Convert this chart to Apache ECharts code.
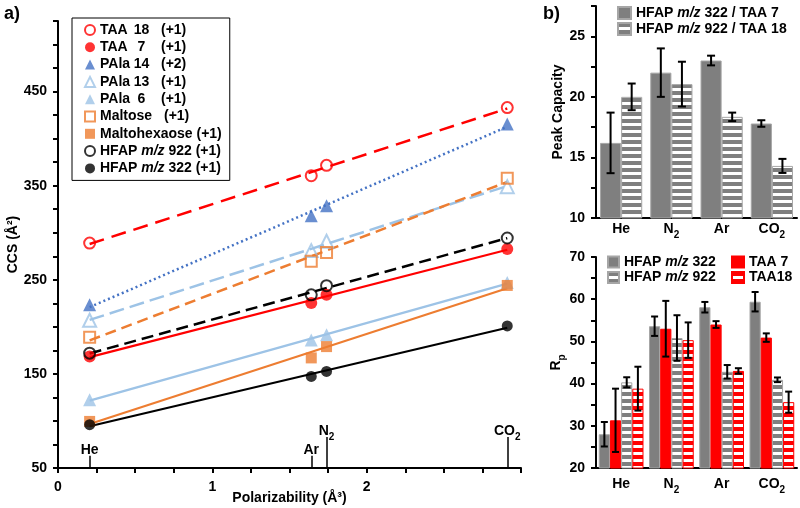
<!DOCTYPE html>
<html><head><meta charset="utf-8">
<script src="https://cdn.jsdelivr.net/npm/echarts@6/dist/echarts.min.js"></script>
<style>html,body{margin:0;padding:0;background:#fff}#c{width:800px;height:508px}</style>
</head><body><div id="c"></div>
<script>
// ---------- Panel a data (CCS vs polarizability) ----------
const gasNames = ['He', 'Ar', 'N2', 'CO2'];
const polarizability = [0.205, 1.641, 1.74, 2.911];
const ccsTAA18 = [289, 360.6, 371.6, 433];
const ccsTAA7 = [168.6, 225.3, 234, 282.7];
const ccsPAla14 = [223.5, 318, 328.7, 415.6];
const ccsPAla13 = [207, 281, 291, 349];
const ccsPAla6 = [122.6, 186, 191.6, 247];
const ccsMaltose = [189, 269.6, 279, 358];
const ccsMaltohexaose = [99.5, 167, 179, 244];
const ccsHFAP922 = [172, 234, 243.7, 294.4];
const ccsHFAP322 = [96, 147.3, 152.6, 201];
const yTicksA = [50, 150, 250, 350, 450];
const xTicksA = [0, 1, 2];

// ---------- Panel b data ----------
const barGases = ['He', 'N2', 'Ar', 'CO2'];
const pc322TAA7 = [16.2, 22.0, 23.0, 17.8];
const pc322TAA7Err = [2.5, 2.0, 0.4, 0.27];
const pc922TAA18 = [20.0, 21.05, 18.35, 14.3];
const pc922TAA18Err = [1.1, 1.85, 0.35, 0.58];

const rpHFAP322 = [28.0, 53.6, 58.1, 59.4];
const rpHFAP322Err = [2.9, 2.3, 1.25, 2.3];
const rpTAA7 = [31.3, 53.0, 54.0, 50.9];
const rpTAA7Err = [7.5, 6.6, 0.8, 1.0];
const rpHFAP922 = [40.3, 50.8, 42.8, 40.9];
const rpHFAP922Err = [1.2, 5.4, 1.6, 0.55];
const rpTAA18 = [38.8, 50.3, 43.0, 35.6];
const rpTAA18Err = [5.2, 4.2, 0.65, 2.5];

// ---------- helpers ----------
const FONT = 'Liberation Sans, Arial, sans-serif';
const RED = '#FF0000', DBLUE = '#4472C4', LBLUE = '#9DC3E6', ORANGE = '#ED7D31', BLACK = '#000000', GRAY = '#7F7F7F';

function stripes(fg, bg) {
  const c = document.createElement('canvas');
  c.width = 4; c.height = 7;
  const g = c.getContext('2d');
  g.fillStyle = bg; g.fillRect(0, 0, 4, 7);
  g.fillStyle = fg; g.fillRect(0, 0, 4, 4);
  return { image: c, repeat: 'repeat' };
}
function fit(xs, ys) {
  const n = xs.length;
  const mx = xs.reduce((a, b) => a + b, 0) / n, my = ys.reduce((a, b) => a + b, 0) / n;
  let sxy = 0, sxx = 0;
  for (let i = 0; i < n; i++) { sxy += (xs[i] - mx) * (ys[i] - my); sxx += (xs[i] - mx) ** 2; }
  const k = sxy / sxx, b = my - k * mx;
  const x0 = Math.min(...xs), x1 = Math.max(...xs);
  return [[x0, k * x0 + b], [x1, k * x1 + b]];
}
const pts = ys => polarizability.map((x, i) => [x, ys[i]]);
const subRich = {
  n: { fontFamily: FONT, fontSize: 14, fontWeight: 'bold', color: '#000', lineHeight: 16, verticalAlign: 'top' },
  s: { fontFamily: FONT, fontSize: 10, fontWeight: 'bold', color: '#000', lineHeight: 10, verticalAlign: 'top', padding: [8, 0, 0, 0] }
};
function gasLabel(g) {
  const m = g.match(/^([A-Za-z]+)(\d*)$/);
  return m[2] ? '{n|' + m[1] + '}{s|' + m[2] + '}' : '{n|' + m[1] + '}';
}

const compounds = [
  { name: 'TAA 18 (+1)', ys: ccsTAA18, color: RED, symbol: 'circle', hollow: true, size: 11, dash: [15, 8] },
  { name: 'TAA 7 (+1)', ys: ccsTAA7, color: RED, symbol: 'circle', hollow: false, size: 12, dash: 'solid' },
  { name: 'PAla 14 (+2)', ys: ccsPAla14, color: DBLUE, symbol: 'triangle', hollow: false, size: 13, dash: [2, 3] },
  { name: 'PAla 13 (+1)', ys: ccsPAla13, color: LBLUE, symbol: 'triangle', hollow: true, size: 13, dash: [15, 6] },
  { name: 'PAla 6 (+1)', ys: ccsPAla6, color: LBLUE, symbol: 'triangle', hollow: false, size: 13, dash: 'solid' },
  { name: 'Maltose (+1)', ys: ccsMaltose, color: ORANGE, symbol: 'rect', hollow: true, size: 11, dash: [11, 6] },
  { name: 'Maltohexaose (+1)', ys: ccsMaltohexaose, color: ORANGE, symbol: 'rect', hollow: false, size: 11, dash: 'solid' },
  { name: 'HFAP m/z 922 (+1)', ys: ccsHFAP922, color: BLACK, symbol: 'circle', hollow: true, size: 11, dash: [12, 6] },
  { name: 'HFAP m/z 322 (+1)', ys: ccsHFAP322, color: BLACK, symbol: 'circle', hollow: false, size: 11, dash: 'solid' }
];
const legendFmtA = {
  'TAA 18 (+1)': '{n|TAA}{d|18}{c|(+1)}',
  'TAA 7 (+1)': '{n|TAA}{d|7}{c|(+1)}',
  'PAla 14 (+2)': '{n|PAla}{d|14}{c|(+2)}',
  'PAla 13 (+1)': '{n|PAla}{d|13}{c|(+1)}',
  'PAla 6 (+1)': '{n|PAla}{d|6}{c|(+1)}',
  'Maltose (+1)': '{w|Maltose}{c|(+1)}',
  'Maltohexaose (+1)': '{t|Maltohexaose (+1)}',
  'HFAP m/z 922 (+1)': '{t|HFAP }{i|m/z}{t| 922 (+1)}',
  'HFAP m/z 322 (+1)': '{t|HFAP }{i|m/z}{t| 322 (+1)}'
};
const base = { fontFamily: FONT, fontSize: 14, fontWeight: 'bold', color: '#000', lineHeight: 15 };
const richA = {
  n: Object.assign({}, base, { width: 32 }),
  d: Object.assign({}, base, { width: 19, align: 'right' }),
  c: Object.assign({}, base, { padding: [0, 0, 0, 10] }),
  w: Object.assign({}, base, { width: 54 }),
  t: Object.assign({}, base),
  i: Object.assign({}, base, { fontStyle: 'italic' })
};
const richB = {
  t: Object.assign({}, base, { lineHeight: 15 }),
  i: Object.assign({}, base, { lineHeight: 15, fontStyle: 'italic' })
};
const mzFmt = name => name.split('m/z').map(s => s ? '{t|' + s + '}' : '').join('{i|m/z}');

function errRender(idx, n, gap, cap) {
  return function (params, api) {
    const c = api.value(0), v = api.value(1), e = api.value(2);
    const band = api.size([1, 0])[0];
    const bw = band * (1 - gap) / n;
    const x = api.coord([c, v])[0] + (idx - n / 2 + 0.5) * bw;
    const y1 = api.coord([c, v + e])[1], y2 = api.coord([c, v - e])[1];
    const st = { stroke: '#000', lineWidth: 2 };
    return { type: 'group', children: [
      { type: 'line', shape: { x1: x, y1: y1, x2: x, y2: y2 }, style: st },
      { type: 'line', shape: { x1: x - cap, y1: y1, x2: x + cap, y2: y1 }, style: st },
      { type: 'line', shape: { x1: x - cap, y1: y2, x2: x + cap, y2: y2 }, style: st }
    ] };
  };
}
const errData = (vals, errs) => vals.map((v, i) => [i, v, errs[i]]);

const series = [];
compounds.forEach(cp => {
  series.push({
    type: 'line', xAxisIndex: 0, yAxisIndex: 0, data: fit(polarizability, cp.ys), showSymbol: false, silent: true, z: 2,
    lineStyle: { color: cp.color, width: cp.dash === 'solid' ? 2.2 : 2.5, type: cp.dash }
  });
});
compounds.forEach(cp => {
  series.push({
    type: 'scatter', name: cp.name, xAxisIndex: 0, yAxisIndex: 0, data: pts(cp.ys), symbol: cp.symbol, symbolSize: cp.size, z: 3,
    itemStyle: cp.hollow ? { color: 'rgba(255,255,255,0)', borderColor: cp.color, borderWidth: 2 } : { color: cp.color, borderWidth: 0 }
  });
});
// gas marker ticks on panel a
series.push({
  type: 'line', xAxisIndex: 0, yAxisIndex: 0, data: [], silent: true,
  markLine: {
    silent: true, symbol: ['none', 'none'], animation: false,
    lineStyle: { color: '#000', width: 1.5, type: 'solid' },
    label: { show: true, position: 'end', distance: -3, formatter: p => gasLabel(p.name), rich: subRich },
    data: gasNames.map((g, i) => [
      { name: g, coord: [polarizability[i], 50] },
      { coord: [polarizability[i], (g === 'He' || g === 'Ar') ? 63 : 83] }
    ])
  }
});

const stripeGray = stripes(GRAY, '#FFFFFF');
const stripeRed = stripes(RED, '#FFFFFF');
const GAP_TOP = 0.16, GAP_BOT = 0.11;
// panel b top
series.push({ type: 'bar', name: 'HFAP m/z 322 / TAA 7', xAxisIndex: 1, yAxisIndex: 1, data: pc322TAA7, barGap: '0%', barCategoryGap: '16%',
  itemStyle: { color: GRAY, borderColor: '#A6A6A6', borderWidth: 1 } });
series.push({ type: 'bar', name: 'HFAP m/z 922 / TAA 18', xAxisIndex: 1, yAxisIndex: 1, data: pc922TAA18, barGap: '0%', barCategoryGap: '16%',
  itemStyle: { color: stripeGray, borderColor: '#A6A6A6', borderWidth: 1 } });
series.push({ type: 'custom', xAxisIndex: 1, yAxisIndex: 1, data: errData(pc322TAA7, pc322TAA7Err), renderItem: errRender(0, 2, GAP_TOP, 4), z: 5, silent: true });
series.push({ type: 'custom', xAxisIndex: 1, yAxisIndex: 1, data: errData(pc922TAA18, pc922TAA18Err), renderItem: errRender(1, 2, GAP_TOP, 4), z: 5, silent: true });
// panel b bottom
const rpSeries = [
  { name: 'HFAP m/z 322', vals: rpHFAP322, errs: rpHFAP322Err, style: { color: GRAY, borderColor: '#A6A6A6', borderWidth: 1 } },
  { name: 'TAA 7', vals: rpTAA7, errs: rpTAA7Err, style: { color: RED, borderColor: RED, borderWidth: 1 } },
  { name: 'HFAP m/z 922', vals: rpHFAP922, errs: rpHFAP922Err, style: { color: stripeGray, borderColor: '#A6A6A6', borderWidth: 1 } },
  { name: 'TAA18', vals: rpTAA18, errs: rpTAA18Err, style: { color: stripeRed, borderColor: RED, borderWidth: 1 } }
];
rpSeries.forEach((s, i) => {
  series.push({ type: 'bar', name: s.name, xAxisIndex: 2, yAxisIndex: 2, data: s.vals, barGap: '0%', barCategoryGap: '11%', itemStyle: s.style });
});
rpSeries.forEach((s, i) => {
  series.push({ type: 'custom', xAxisIndex: 2, yAxisIndex: 2, data: errData(s.vals, s.errs), renderItem: errRender(i, 4, GAP_BOT, 3.5), z: 5, silent: true });
});

const axisLine = { show: true, onZero: false, lineStyle: { color: '#000', width: 2 } };
const tickLabel = { fontFamily: FONT, fontSize: 14, fontWeight: 'bold', color: '#000' };
const nameStyle = { fontFamily: FONT, fontSize: 14, fontWeight: 'bold', color: '#000' };

const option = {
  animation: false,
  backgroundColor: '#fff',
  textStyle: { fontFamily: FONT },
  grid: [
    { left: 58, top: 21, width: 463, bottom: 40, outerBoundsMode: 'none' },
    { left: 596, top: 6, right: 3, bottom: 290, outerBoundsMode: 'none' },
    { left: 596, top: 257, right: 3, bottom: 40, outerBoundsMode: 'none' }
  ],
  xAxis: [
    { type: 'value', gridIndex: 0, min: 0, max: 3, interval: 0.25, axisLine, splitLine: { show: false },
      axisTick: { show: true, length: 5, lineStyle: { color: '#000', width: 2 } },
      axisLabel: Object.assign({}, tickLabel, { margin: 12, showMaxLabel: true, formatter: v => xTicksA.includes(v) ? String(v) : '' }),
      name: 'Polarizability (Å³)', nameLocation: 'middle', nameGap: 23, nameMoveOverlap: false, nameTextStyle: nameStyle },
    { type: 'category', gridIndex: 1, data: barGases, axisLine, axisTick: { show: false }, splitLine: { show: false },
      axisLabel: { margin: 4, interval: 0, formatter: gasLabel, rich: subRich } },
    { type: 'category', gridIndex: 2, data: barGases, axisLine, axisTick: { show: false }, splitLine: { show: false },
      axisLabel: { margin: 9, interval: 0, formatter: gasLabel, rich: subRich } }
  ],
  yAxis: [
    { type: 'value', gridIndex: 0, min: 50, max: 525, interval: 25, axisLine, splitLine: { show: false },
      axisTick: { show: true, length: 5, lineStyle: { color: '#000', width: 2 } },
      axisLabel: Object.assign({}, tickLabel, { margin: 11, formatter: v => yTicksA.includes(v) ? String(v) : '' }),
      name: 'CCS (Å²)', nameLocation: 'middle', nameGap: 38, nameMoveOverlap: false, nameRotate: 90, nameTextStyle: nameStyle },
    { type: 'value', gridIndex: 1, min: 10, max: 27.5, interval: 2.5, axisLine, splitLine: { show: false },
      axisTick: { show: true, length: 5, lineStyle: { color: '#000', width: 2 } },
      axisLabel: Object.assign({}, tickLabel, { margin: 11, formatter: v => v % 5 === 0 ? String(v) : '' }),
      name: 'Peak Capacity', nameLocation: 'middle', nameGap: 31, nameMoveOverlap: false, nameRotate: 90, nameTextStyle: nameStyle },
    { type: 'value', gridIndex: 2, min: 20, max: 70, interval: 5, axisLine, splitLine: { show: false },
      axisTick: { show: true, length: 5, lineStyle: { color: '#000', width: 2 } },
      axisLabel: Object.assign({}, tickLabel, { margin: 11, formatter: v => v % 10 === 0 ? String(v) : '' }),
      name: '{n|R}{s|p}', nameLocation: 'middle', nameGap: 31, nameMoveOverlap: false, nameRotate: 90,
      nameTextStyle: { rich: {
        n: { fontFamily: FONT, fontSize: 14, fontWeight: 'bold', color: '#000', lineHeight: 16, verticalAlign: 'top' },
        s: { fontFamily: FONT, fontSize: 10, fontWeight: 'bold', color: '#000', lineHeight: 10, verticalAlign: 'top', padding: [8, 0, 0, 0] } } } }
  ],
  legend: [
    { orient: 'vertical', left: 72, top: 18, padding: [5, 8, 5, 12], itemGap: 3.3, itemWidth: 10, itemHeight: 10,
      borderColor: '#000', borderWidth: 1, backgroundColor: '#fff', selectedMode: false,
      data: compounds.map(c => c.name), formatter: n => legendFmtA[n], textStyle: { rich: richA } },
    { orient: 'vertical', left: 617, top: 6, padding: 0, itemGap: 2, itemWidth: 13, itemHeight: 12, icon: 'rect', selectedMode: false,
      data: ['HFAP m/z 322 / TAA 7', 'HFAP m/z 922 / TAA 18'], formatter: mzFmt, textStyle: { rich: richB } },
    { orient: 'vertical', left: 607, top: 255, padding: 0, itemGap: 1.5, itemWidth: 11, itemHeight: 11, icon: 'rect', itemTextGap: 4, selectedMode: false,
      data: ['HFAP m/z 322', 'HFAP m/z 922'], formatter: mzFmt, textStyle: { rich: richB } },
    { orient: 'vertical', left: 731, top: 255, padding: 0, itemGap: 1.5, itemWidth: 12, itemHeight: 11, icon: 'rect', itemTextGap: 3, selectedMode: false,
      data: ['TAA 7', 'TAA18'], formatter: mzFmt, textStyle: { rich: richB } }
  ],
  graphic: [
    { type: 'text', left: 4, top: 5, style: { text: 'a)', font: 'bold 18px ' + FONT, fill: '#000' } },
    { type: 'text', left: 543, top: 5, style: { text: 'b)', font: 'bold 18px ' + FONT, fill: '#000' } }
  ],
  series
};
const chart = echarts.init(document.getElementById('c'), null, { renderer: 'canvas' });
chart.setOption(option);
</script></body></html>
